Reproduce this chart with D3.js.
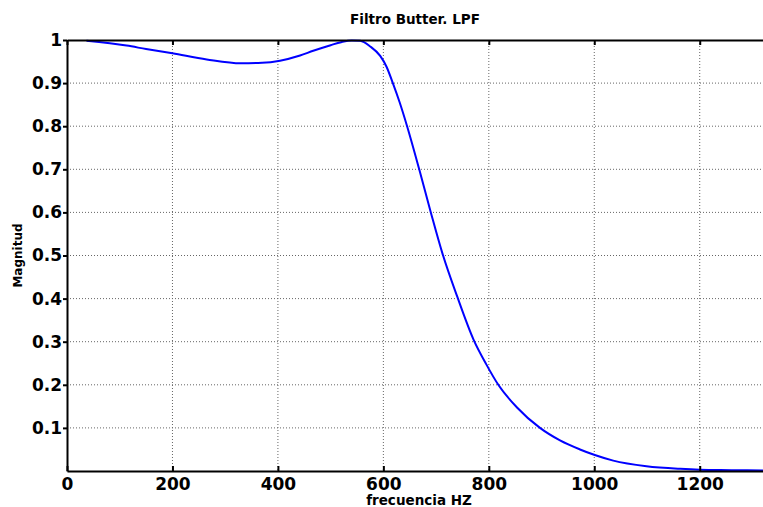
<!DOCTYPE html>
<html>
<head>
<script src="https://d3js.org/d3.v7.min.js"></script>
<style>
  body { margin: 0; background: #fff; }
  text { font-family: "DejaVu Sans", Arial, sans-serif; font-weight: bold; }
</style>
</head>
<body>
<div id="my_dataviz"></div>
<script>
// frequency (Hz) and magnitude
var freq = [37, 113, 150, 200, 265, 330, 370, 404, 442, 467, 500, 520, 540, 556, 575, 594, 606, 618, 631, 645, 668, 690, 712, 740, 771, 795, 818, 853, 897, 935, 973, 1001, 1036, 1099, 1163, 1200, 1260, 1320];
var mag  = [0.998, 0.987, 0.979, 0.969, 0.955, 0.946, 0.947, 0.952, 0.964, 0.975, 0.988, 0.995, 0.999, 0.998, 0.985, 0.963, 0.938, 0.900, 0.855, 0.800, 0.700, 0.600, 0.505, 0.405, 0.305, 0.248, 0.200, 0.148, 0.100, 0.071, 0.050, 0.037, 0.024, 0.011, 0.005, 0.003, 0.002, 0.001];
var xTicks = [0, 200, 400, 600, 800, 1000, 1200];
var yTicks = [0.1, 0.2, 0.3, 0.4, 0.5, 0.6, 0.7, 0.8, 0.9, 1];

var W = 763, H = 507;
var mLeft = 67, mTop = 40, mRight = 763, mBottom = 471;

var svg = d3.select("#my_dataviz")
  .append("svg")
    .attr("width", W)
    .attr("height", H);

var x = d3.scaleLinear().domain([0, 1320]).range([mLeft, mRight]);
var y = d3.scaleLinear().domain([0, 1]).range([mBottom, mTop]);

// grid
svg.append("g").selectAll("line")
  .data(xTicks.slice(1))
  .enter().append("line")
    .attr("x1", function(d) { return x(d); })
    .attr("x2", function(d) { return x(d); })
    .attr("y1", mTop).attr("y2", mBottom)
    .attr("stroke", "#666").attr("stroke-width", 1)
    .attr("stroke-dasharray", "1,2");

svg.append("g").selectAll("line")
  .data(yTicks.slice(0, -1))
  .enter().append("line")
    .attr("y1", function(d) { return y(d); })
    .attr("y2", function(d) { return y(d); })
    .attr("x1", mLeft).attr("x2", mRight)
    .attr("stroke", "#666").attr("stroke-width", 1)
    .attr("stroke-dasharray", "1,2");

// curve
var line = d3.line()
  .x(function(d, i) { return x(freq[i]); })
  .y(function(d) { return y(d); })
  .curve(d3.curveMonotoneX);

svg.append("path")
  .datum(mag)
  .attr("d", line)
  .attr("fill", "none")
  .attr("stroke", "#0000ff")
  .attr("stroke-width", 2);

// axes
var xAxis = svg.append("g")
  .attr("transform", "translate(0," + mBottom + ")")
  .call(d3.axisBottom(x).tickValues(xTicks).tickSizeInner(-5).tickSizeOuter(0).tickPadding(7).tickFormat(d3.format("d")));
var xTop = svg.append("g")
  .attr("transform", "translate(0," + mTop + ")")
  .call(d3.axisTop(x).tickValues(xTicks).tickSizeInner(-5).tickSizeOuter(0).tickFormat(""));
var yAxis = svg.append("g")
  .attr("transform", "translate(" + mLeft + ",0)")
  .call(d3.axisLeft(y).tickValues(yTicks).tickSizeInner(4).tickSizeOuter(0).tickPadding(1).tickFormat(d3.format("")));

[xAxis, xTop, yAxis].forEach(function(g) {
  g.select(".domain").attr("stroke", "#000").attr("stroke-width", 2);
  g.selectAll(".tick line").attr("stroke", "#000").attr("stroke-width", 2);
  g.selectAll("text")
    .attr("fill", "#000")
    .style("font-size", "17px")
    .style("font-family", "'DejaVu Sans', Arial, sans-serif")
    .style("font-weight", "bold");
});

// titles
svg.append("text")
  .attr("x", (mLeft + mRight) / 2).attr("y", 24)
  .attr("text-anchor", "middle")
  .style("font-size", "13.5px")
  .text("Filtro Butter. LPF");

svg.append("text")
  .attr("x", (mLeft + mRight) / 2 + 4).attr("y", 505)
  .attr("text-anchor", "middle")
  .style("font-size", "13.5px")
  .text("frecuencia HZ");

svg.append("text")
  .attr("transform", "translate(22," + ((mTop + mBottom) / 2) + ") rotate(-90)")
  .attr("text-anchor", "middle")
  .style("font-size", "12px")
  .text("Magnitud");
</script>
</body>
</html>
